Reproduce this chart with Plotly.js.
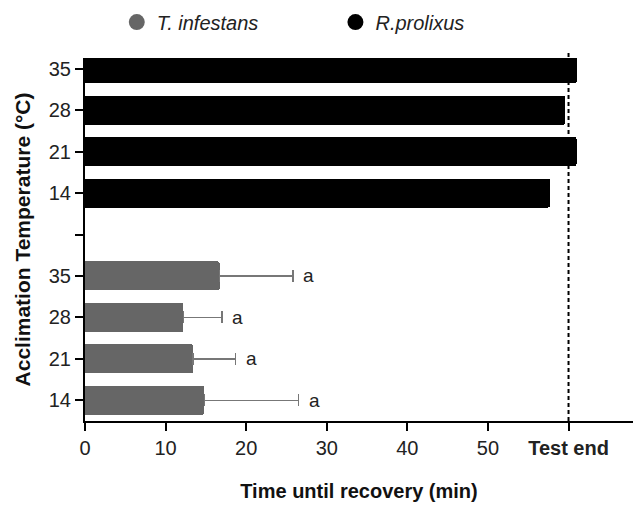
<!DOCTYPE html>
<html><head><meta charset="utf-8">
<script src="https://cdn.plot.ly/plotly-3.0.1.min.js"></script>
<style>body{margin:0;background:#fff}#c{width:637px;height:508px}</style>
</head><body><div id="c"></div>
<script>
var temps = ['14','21','28','35'];
var tInfMean = [14.8, 13.4, 12.2, 16.7];
var tInfErr = [11.7, 5.3, 4.8, 9.1];
var rProMean = [57.7, 61.0, 59.6, 61.0];
var sigLetters = ['a','a','a','a'];
var gapLabel = '';
var xTicks = [0,10,20,30,40,50,60];
var xTickText = ['0','10','20','30','40','50','<b>Test end</b>'];
var testEnd = 60;

var posInf = temps.map(function(_, i){ return i; });
var posPro = temps.map(function(_, i){ return i + temps.length + 1; });
var yTickVals = posInf.concat([temps.length]).concat(posPro);
var yTickText = temps.concat([gapLabel]).concat(temps);

var traces = [
  {type:'bar', orientation:'h', x:tInfMean, y:posInf, width:0.7,
   marker:{color:'#666666', cornerradius:2, line:{width:0}},
   error_x:{type:'data', array:tInfErr, arrayminus:tInfErr.map(function(){return 0;}), symmetric:false, color:'#777777', thickness:1.5, width:6},
   showlegend:false, hoverinfo:'none'},
  {type:'bar', orientation:'h', x:rProMean, y:posPro, width:0.7,
   marker:{color:'#000000', cornerradius:2, line:{width:0}},
   showlegend:false, hoverinfo:'none'},
  {type:'scatter', mode:'markers', x:[null], y:[null], name:'<i>T. infestans</i>', legend:'legend',
   marker:{color:'#666666', size:22, symbol:'circle'}},
  {type:'scatter', mode:'markers', x:[null], y:[null], name:'<i>R.prolixus</i>', legend:'legend2',
   marker:{color:'#000000', size:22, symbol:'circle'}}
];

var annotations = sigLetters.map(function(t, i){
  return {x: tInfMean[i] + tInfErr[i], y: posInf[i], text: t, showarrow:false,
    xanchor:'left', xshift:8, font:{family:'Liberation Sans, Arial', size:19, color:'#222'}};
});

var legFont = {family:'Liberation Sans, Arial', size:20, color:'#222'};
var layout = {
  width:637, height:508,
  margin:{l:85, r:4, t:57, b:87},
  paper_bgcolor:'#fff', plot_bgcolor:'#fff',
  bargap:0,
  font:{family:'Liberation Sans, Arial', size:20, color:'#222'},
  xaxis:{range:[0,68], tickvals:xTicks, ticktext:xTickText, ticks:'outside', ticklen:8, tickwidth:2,
    tickcolor:'#000', showline:true, linecolor:'#000', linewidth:2, showgrid:false, zeroline:false,
    tickfont:{size:20, color:'#222'}, automargin:false,
    title:{text:'<b>Time until recovery (min)</b>', font:{size:20, color:'#111'}, standoff:26}},
  yaxis:{range:[-0.5,8.26], tickvals:yTickVals, ticktext:yTickText, ticks:'outside', ticklen:8, tickwidth:2,
    tickcolor:'#000', showline:true, linecolor:'#000', linewidth:2, showgrid:false, zeroline:false,
    tickfont:{size:20, color:'#222'}, automargin:false,
    title:{text:'<b>Acclimation Temperature (°C)</b>', font:{size:21, color:'#111'}, standoff:12}},
  showlegend:true,
  legend:{orientation:'h', x:0.058, y:1.096, xanchor:'left', yanchor:'middle', font:legFont, bgcolor:'rgba(0,0,0,0)', borderwidth:0},
  legend2:{orientation:'h', x:0.457, y:1.096, xanchor:'left', yanchor:'middle', font:legFont, bgcolor:'rgba(0,0,0,0)', borderwidth:0},
  shapes:[{type:'line', xref:'x', yref:'paper', x0:testEnd, x1:testEnd, y0:0, y1:1.015,
    line:{color:'#000', width:2, dash:'4px,3px'}}],
  annotations:annotations
};
Plotly.newPlot('c', traces, layout, {displayModeBar:false, staticPlot:true});
</script></body></html>
